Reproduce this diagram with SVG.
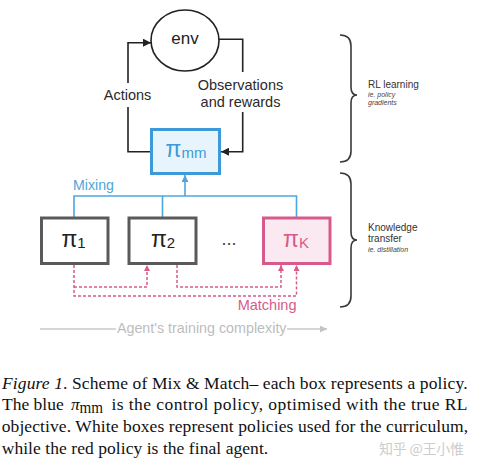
<svg xmlns="http://www.w3.org/2000/svg" width="478" height="472" viewBox="0 0 478 472">
<defs>
<style>
.sans{font-family:"Liberation Sans",Arial,sans-serif}
.serif{font-family:"Liberation Serif","Times New Roman",serif;font-size:17.5px;fill:#111}
.loop{fill:none;stroke:#222;stroke-width:1.6}
.mix{fill:none;stroke:#4ea6dc;stroke-width:1.6}
.match{fill:none;stroke:#d85a8c;stroke-width:1.5;stroke-dasharray:3 2}
.gbox{fill:#fff;stroke:#5a5a5a;stroke-width:3}
.brace{fill:none;stroke:#3a3a3a;stroke-width:1.6}
.lbl{font-size:14.5px;fill:#2a2a2a}
.side{font-size:10px;fill:#333}
.sidei{font-size:7px;font-style:italic;fill:#444}
</style>
<marker id="ab" viewBox="0 0 10 10" refX="10" refY="5" markerWidth="8" markerHeight="8" markerUnits="userSpaceOnUse" orient="auto"><path d="M0,0 L10,5 L0,10 z" fill="#222"/></marker>
<marker id="abl" viewBox="0 0 10 10" refX="10" refY="5" markerWidth="7" markerHeight="7" markerUnits="userSpaceOnUse" orient="auto"><path d="M0,0 L10,5 L0,10 z" fill="#4ea6dc"/></marker>
<marker id="ap" viewBox="0 0 10 10" refX="10" refY="5" markerWidth="6" markerHeight="6" markerUnits="userSpaceOnUse" orient="auto"><path d="M0,0 L10,5 L0,10 z" fill="#d85a8c"/></marker>
<marker id="ag" viewBox="0 0 10 10" refX="10" refY="5" markerWidth="7" markerHeight="7" markerUnits="userSpaceOnUse" orient="auto"><path d="M0,0 L10,5 L0,10 z" fill="#c4c4c4"/></marker>
</defs>
<rect width="478" height="472" fill="#fff"/>

<g id="connectors">
<path class="loop" d="M151,151.7 H128 V107"/>
<path class="loop" d="M128,83 V42.7 H151" marker-end="url(#ab)"/>
<path class="loop" d="M219,39.3 H242.7 V72"/>
<path class="loop" d="M242.7,112 V151.7 H221" marker-end="url(#ab)"/>
<path class="mix" d="M74,217 V196 H296.5 V217 M162.5,196 V217"/>
<path class="mix" d="M185,196 V175" marker-end="url(#abl)"/>
<path class="match" d="M74,265 V296 H296.5 V265" marker-end="url(#ap)"/>
<path class="match" d="M74,287 H147 V265" marker-end="url(#ap)"/>
<path class="match" d="M177,265 V287 H281 V265" marker-end="url(#ap)"/>
<path fill="none" stroke="#c8c8c8" stroke-width="1.3" d="M40,329 H116"/>
<path fill="none" stroke="#c8c8c8" stroke-width="1.3" d="M287,329 H327" marker-end="url(#ag)"/>
</g>

<g id="node-env">
<ellipse cx="185" cy="40.5" rx="34" ry="30.5" fill="#fff" stroke="#222" stroke-width="1.6"/>
<text class="sans" x="185" y="44" font-size="17" fill="#222" text-anchor="middle">env</text>
</g>

<g id="node-pimm">
<rect x="151.5" y="129.5" width="68" height="44" fill="#e8f4fc" stroke="#3d9ad8" stroke-width="3"/>
<text class="sans" x="186" y="157.3" font-size="23" fill="#3d9ad8" text-anchor="middle">π<tspan font-size="15" dy="1">mm</tspan></text>
</g>

<g id="node-pi1">
<rect class="gbox" x="41.5" y="218" width="66.5" height="45.5"/>
<text class="sans" x="73.5" y="246.7" font-size="23" fill="#222" text-anchor="middle">π<tspan font-size="15" dy="1.5">1</tspan></text>
</g>

<g id="node-pi2">
<rect class="gbox" x="129" y="218" width="67" height="45.5"/>
<text class="sans" x="163" y="246.7" font-size="23" fill="#222" text-anchor="middle">π<tspan font-size="15" dy="1.5">2</tspan></text>
</g>

<g id="node-dots">
<text class="sans" x="229" y="245" font-size="18" fill="#444" text-anchor="middle">...</text>
</g>

<g id="node-piK">
<rect x="263.5" y="218" width="66.5" height="45.5" fill="#fbe9f1" stroke="#d85a8c" stroke-width="3"/>
<text class="sans" x="296" y="246.7" font-size="23" fill="#d85a8c" text-anchor="middle">π<tspan font-size="15" dy="1.5">K</tspan></text>
</g>

<g id="labels" class="sans">
<text class="lbl" x="127.5" y="100" text-anchor="middle">Actions</text>
<text class="lbl" x="240.5" y="90" text-anchor="middle">Observations</text>
<text class="lbl" x="240.5" y="106.5" text-anchor="middle">and rewards</text>
<text x="73" y="190" font-size="14.2" fill="#4ea6dc">Mixing</text>
<text x="296.5" y="310" font-size="14.5" fill="#d85a8c" text-anchor="end">Matching</text>
<text x="201.7" y="333" font-size="14.3" fill="#bdbdbd" text-anchor="middle">Agent's training complexity</text>
</g>

<g id="braces">
<path class="brace" d="M340,35 Q351,35 351,46 L351,87 Q351,95 357,95 Q351,95 351,103 L351,151 Q351,162 340,162"/>
<path class="brace" d="M340,173 Q351,173 351,184 L351,232 Q351,240 357,240 Q351,240 351,248 L351,296 Q351,307 340,307"/>
<g class="sans">
<text class="side" x="368" y="88.3">RL learning</text>
<text class="sidei" x="368" y="97">ie. policy</text>
<text class="sidei" x="368" y="105.2">gradients</text>
<text class="side" x="368" y="231">Knowledge</text>
<text class="side" x="368" y="242.3">transfer</text>
<text class="sidei" x="368" y="251.7">ie. distillation</text>
</g>
</g>

<g id="caption">
<text class="serif" x="2" y="388.5" textLength="465.5" lengthAdjust="spacing"><tspan font-style="italic">Figure 1</tspan>. Scheme of Mix &amp; Match– each box represents a policy.</text>
<text class="serif" x="2" y="410">The blue</text>
<text class="serif" x="71" y="410" font-style="italic">π</text>
<text class="serif" x="79.5" y="413" font-size="12" textLength="23.5" lengthAdjust="spacingAndGlyphs">mm</text>
<text class="serif" x="111.5" y="410" textLength="356" lengthAdjust="spacing">is the control policy, optimised with the true RL</text>
<text class="serif" x="1.7" y="432" textLength="466.5" lengthAdjust="spacing">objective. White boxes represent policies used for the curriculum,</text>
<text class="serif" x="1.7" y="454" textLength="266.5" lengthAdjust="spacing">while the red policy is the final agent.</text>
<text x="379" y="454" font-size="14" fill="#cdcdcd" font-family="'Noto Sans CJK SC',sans-serif" textLength="85" lengthAdjust="spacing">知乎 @王小惟</text>
</g>
</svg>
